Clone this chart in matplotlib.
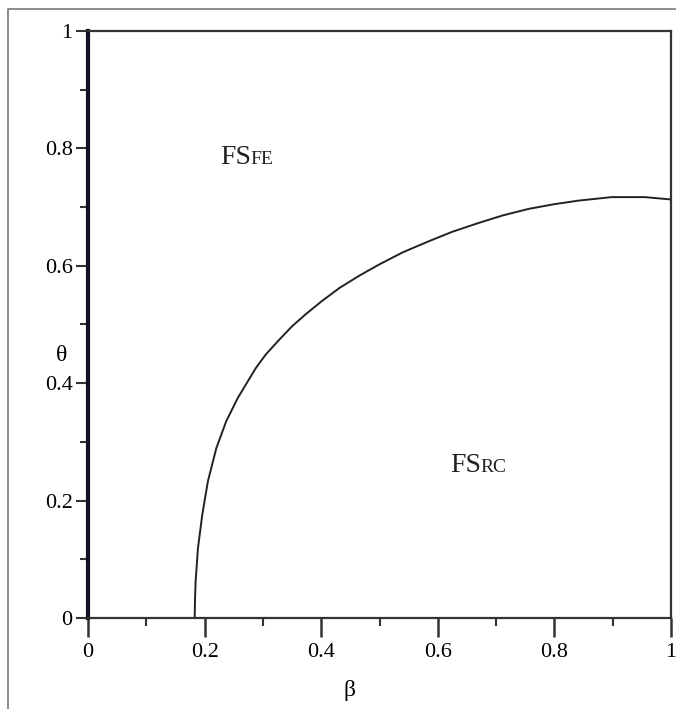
import numpy as np
import matplotlib
matplotlib.use("Agg")
from matplotlib import pyplot as plt
from matplotlib.lines import Line2D

# boundary curve
beta = [0.183, 0.1835, 0.1846, 0.1886, 0.196, 0.2057, 0.220, 0.237, 0.257, 0.288,
        0.305, 0.328, 0.350, 0.374, 0.400, 0.431, 0.465, 0.499, 0.540, 0.585,
        0.625, 0.670, 0.712, 0.756, 0.800, 0.841, 0.898, 0.955, 1.0]
theta = [0.0, 0.03, 0.0625, 0.119, 0.176, 0.233, 0.289, 0.335, 0.375, 0.426,
         0.449, 0.474, 0.497, 0.518, 0.539, 0.562, 0.583, 0.602, 0.623, 0.642,
         0.658, 0.673, 0.686, 0.697, 0.705, 0.711, 0.717, 0.717, 0.713]

xticks = [0, 0.2, 0.4, 0.6, 0.8, 1]
xtick_labels = ['0', '0.2', '0.4', '0.6', '0.8', '1']
yticks = [0, 0.2, 0.4, 0.6, 0.8, 1]
ytick_labels = ['0', '0.2', '0.4', '0.6', '0.8', '1']

plt.rcParams['font.family'] = ['Liberation Serif', 'DejaVu Serif']

fig = plt.figure(figsize=(6.76, 7.09), dpi=100)
ax = fig.add_axes([88/676, 1-618/709, 583/676, 587/709])

ax.plot(beta, theta, color='#222222', lw=1.4, solid_joinstyle='round')
ax.set_xlim(0, 1)
ax.set_ylim(0, 1)

ax.set_xticks(xticks)
ax.set_xticklabels(xtick_labels)
ax.set_yticks(yticks)
ax.set_yticklabels(ytick_labels)
ax.set_xticks(np.arange(0.1, 1, 0.2), minor=True)
ax.set_yticks(np.arange(0.1, 1, 0.2), minor=True)
ax.tick_params(axis='x', which='major', length=14, width=1.8, labelsize=16, pad=4, color='#333333')
ax.tick_params(axis='x', which='minor', length=6, width=1.5, color='#333333')
ax.tick_params(axis='y', which='major', length=9, width=1.5, labelsize=16, pad=2, color='#333333')
ax.tick_params(axis='y', which='minor', length=6, width=1.5, color='#333333')

for s in ['top', 'right', 'bottom']:
    ax.spines[s].set_linewidth(1.6)
    ax.spines[s].set_color('#333333')
ax.spines['left'].set_linewidth(3)
ax.spines['left'].set_color('#111122')

ax.set_xlabel('β', fontsize=17, va='center')
ax.xaxis.set_label_coords(0.449, -0.123)
ax.set_ylabel('θ', fontsize=17, rotation=0, va='center', ha='center')
ax.yaxis.set_label_coords(-0.045, 0.448)

# region labels: "FS" with small-caps suffix
ax.text(0.2276, 0.773, 'FS', fontsize=20, va='baseline', ha='left', color='#222222')
ax.annotate('FE', xy=(0.2276, 0.773), xytext=(21.5, 0), textcoords='offset points',
            fontsize=14, va='baseline', ha='left', color='#222222')
ax.text(0.6219, 0.249, 'FS', fontsize=20, va='baseline', ha='left', color='#222222')
ax.annotate('RC', xy=(0.6219, 0.249), xytext=(21.5, 0), textcoords='offset points',
            fontsize=14, va='baseline', ha='left', color='#222222')

# outer frame of the image
x0, y0 = 8/676, 1-9/709
fig.add_artist(Line2D([x0, x0, 1.0], [0.0, y0, y0], transform=fig.transFigure,
                      color='#777777', lw=1.2))

fig.savefig('out.png', dpi=100)
